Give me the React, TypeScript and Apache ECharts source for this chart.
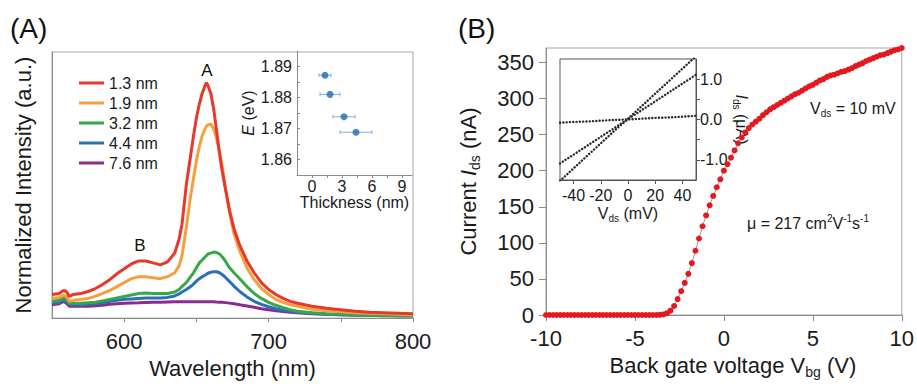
import React, { useEffect, useRef } from 'react';
import * as echarts from 'echarts';

const FONT = "'Liberation Sans', Arial, Helvetica, sans-serif";
const TXT = '#1a1a1a';

// ---------- Panel A: PL spectra ----------
const wavelength = [550, 555, 558, 560, 562, 565, 570, 575, 580, 585, 590, 595, 600, 605, 610, 615, 620, 625, 630, 635, 638, 640, 643, 646, 648, 650, 652, 654, 656, 657, 658, 660, 662, 664, 666, 668, 670, 673, 676, 680, 685, 690, 695, 700, 705, 710, 715, 720, 730, 740, 750, 760, 770, 780, 790, 800];
const pl13 = [24, 25, 28, 27, 22, 24, 25, 27, 30, 34, 39, 45, 50, 55, 58, 58, 56, 54, 57, 66, 80, 95, 135, 165, 185, 203, 217, 228, 236, 239, 236, 228, 212, 190, 167, 148, 132, 109, 91, 74, 58, 46, 36, 29, 24, 20, 17, 15, 12, 10, 8.5, 7, 6, 5.5, 5, 4.5];
const pl19 = [20, 21, 23, 22, 17, 18, 19, 20, 22, 25, 28, 32, 36, 40, 42, 42, 41, 40, 42, 46, 53, 63, 92, 124, 142, 160, 174, 185, 192, 195, 196, 197, 192, 182, 169, 153, 133, 107, 86, 68, 51, 39, 30, 24, 19, 16, 13.5, 12, 9, 7.5, 6.5, 5.5, 5, 4.5, 4, 3.5];
const pl32 = [17, 18, 20.5, 19, 15, 15, 15, 15.5, 16, 17.5, 19, 20.5, 22, 23.5, 25, 25.5, 25, 25, 25, 26.5, 29, 32, 36, 42, 46, 51, 56, 59, 62, 63.5, 65, 66, 67, 66.5, 65, 62, 58, 51, 46, 40, 32, 25, 20, 16, 13, 10.5, 8.5, 7, 5.5, 4.5, 4, 3.5, 3, 3, 2.5, 2.5];
const pl44 = [15, 16, 18.5, 17, 13.5, 13.5, 13.5, 14, 14.5, 15.5, 17, 18, 19, 19.5, 20, 20.3, 20.3, 20.5, 21, 22.5, 24.5, 26.5, 29, 32, 34.5, 37.5, 40, 42, 43.5, 44.5, 45.5, 46.5, 47, 47, 46, 44, 41.5, 37, 32.5, 27, 21.5, 17, 14, 11.5, 9.5, 8, 7, 6, 5, 4, 3.5, 3.5, 3, 3, 2.5, 2.5];
const pl76 = [13.5, 14.5, 17, 15, 12, 12, 12, 12, 12.5, 13, 14, 14.5, 15, 15.3, 15.5, 15.8, 16, 16, 16.3, 16.5, 16.5, 16.5, 16.5, 16.5, 16.5, 16.5, 16.5, 16.5, 16.5, 16.5, 16.5, 16.5, 16.5, 16.3, 16.2, 16, 15.7, 15.2, 14.5, 13.5, 12.3, 11, 9.5, 8.5, 7.5, 6.8, 6, 5.5, 4.5, 4, 3.5, 3, 3, 2.5, 2.5, 2.5];
const thicknessNames = ['1.3 nm', '1.9 nm', '3.2 nm', '4.4 nm', '7.6 nm'];
const thicknessColors = ['#e8382b', '#f4a03e', '#36a847', '#2a70b6', '#8c2b8e'];

// inset A: peak energy vs thickness
const insetThickness = [1.3, 1.8, 3.2, 4.4];
const insetEnergy = [1.8872, 1.881, 1.8738, 1.8688];
const insetThickErr = [0.6, 1.0, 1.1, 1.6];

// ---------- Panel B: transfer curve ----------
const vbgStart = -10;
const vbgStep = 0.2;
const ids = [
  0, 0, 0, 0, 0, 0, 0, 0, 0, 0,
  0, 0, 0, 0, 0, 0, 0, 0, 0, 0,
  0, 0, 0, 0, 0, 0, 0, 0, 0, 0,
  0, 0, 0.3, 0.8,
  2.5, 6, 12.5, 22, 33, 44.5, 57, 72, 89, 106, 123, 138, 152, 165, 177, 188, 200,
  209, 218, 228, 238, 246, 253, 259, 264, 268, 272, 277, 281, 285, 288, 291, 294, 297, 300, 303,
  306, 308, 311, 314, 317, 319, 322, 325, 327, 330, 332, 333, 335, 337, 338, 340, 342, 345, 347, 349,
  352, 354, 356, 358, 360, 361, 363, 365, 367, 368, 370,
];

// inset B: output curves
const vds = [-50, -40, -30, -20, -10, 0, 10, 20, 30, 40, 50];
const idsOut1 = [-1.52, -1.21, -0.9, -0.59, -0.28, 0.02, 0.33, 0.64, 0.95, 1.26, 1.57];
const idsOut2 = [-1.09, -0.87, -0.65, -0.43, -0.21, 0.01, 0.23, 0.45, 0.67, 0.89, 1.11];
const idsOut3 = [-0.08, -0.06, -0.05, -0.03, -0.01, 0.0, 0.02, 0.04, 0.05, 0.07, 0.09];

export default function App() {
  const ref = useRef<HTMLDivElement>(null);
  useEffect(() => {
    const chart = echarts.init(ref.current!, null, { renderer: 'svg' });
    const plSets = [pl13, pl19, pl32, pl44, pl76];
    const spectra = plSets
      .map((vals, i) => ({
        name: thicknessNames[i],
        type: 'line',
        xAxisIndex: 0,
        yAxisIndex: 0,
        showSymbol: false,
        symbol: 'none',
        color: thicknessColors[i],
        lineStyle: { width: 3, color: thicknessColors[i] },
        data: wavelength.map((w, j) => [w, vals[j]]),
        z: 10 - i,
      }))
      .reverse();

    const transfer = ids.map((v, i) => [+(vbgStart + i * vbgStep).toFixed(2), v]);
    const dotted = (vals: number[]) => ({
      type: 'line',
      xAxisIndex: 3,
      yAxisIndex: 3,
      showSymbol: false,
      symbol: 'none',
      clip: true,
      lineStyle: { color: '#2a2a2a', width: 2.4, type: [0.1, 3.2], cap: 'round' },
      data: vds.map((x, i) => [x, vals[i]]),
      z: 20,
    });

    const axisGrey = '#8a8a8a';
    const option: any = {
      animation: false,
      textStyle: { fontFamily: FONT, color: TXT },
      legend: {
        data: thicknessNames,
        orient: 'vertical',
        left: 74,
        top: 68,
        icon: 'rect',
        itemWidth: 25,
        itemHeight: 3,
        itemGap: 0,
        selectedMode: false,
        textStyle: { fontSize: 16, lineHeight: 20, color: TXT, fontFamily: FONT },
      },
      grid: [
        { left: 52, top: 52, width: 361, height: 270, show: true, borderColor: '#a8a8a8', borderWidth: 1 },
        { left: 297, top: 51, width: 115, height: 124 },
        { left: 546, top: 48, width: 361, height: 272, show: true, borderColor: '#a8a8a8', borderWidth: 1 },
        { left: 560, top: 59, width: 136, height: 121, show: true, borderColor: '#555', borderWidth: 1, backgroundColor: '#fff' },
      ],
      xAxis: [
        {
          gridIndex: 0, type: 'value', min: 550, max: 800,
          axisLine: { onZero: false, lineStyle: { color: axisGrey } },
          axisTick: { show: true, length: 4, customValues: [600, 650, 700, 750, 800], lineStyle: { color: axisGrey } },
          axisLabel: { customValues: [600, 700, 800], fontSize: 22, margin: 12, color: TXT, fontFamily: FONT },
          splitLine: { show: false },
          name: 'Wavelength (nm)', nameLocation: 'middle', nameGap: 38,
          nameTextStyle: { fontSize: 22, color: TXT, fontFamily: FONT },
        },
        {
          gridIndex: 1, type: 'value', min: -1.5, max: 10,
          axisLine: { onZero: false, lineStyle: { color: axisGrey } },
          axisTick: { show: true, length: 3, customValues: [0, 1.5, 3, 4.5, 6, 7.5, 9], lineStyle: { color: axisGrey } },
          axisLabel: { customValues: [0, 3, 6, 9], fontSize: 16, margin: 3, color: TXT, fontFamily: FONT },
          splitLine: { show: false },
          name: 'Thickness (nm)', nameLocation: 'middle', nameGap: 16,
          nameTextStyle: { fontSize: 16, color: TXT, fontFamily: FONT },
        },
        {
          gridIndex: 2, type: 'value', min: -10, max: 10, interval: 5,
          axisLine: { onZero: false, lineStyle: { color: axisGrey } },
          axisTick: { show: true, length: 6, lineStyle: { color: axisGrey } },
          axisLabel: { fontSize: 22, margin: 12, color: TXT, fontFamily: FONT },
          splitLine: { show: false },
          name: '{n|Back gate voltage V}{s|bg}{n| (V)}', nameLocation: 'middle', nameGap: 36,
          nameTextStyle: {
            fontSize: 22, color: TXT, fontFamily: FONT, padding: [0, 0, 0, 18],
            rich: {
              n: { fontSize: 22, lineHeight: 28, color: TXT, fontFamily: FONT },
              s: { fontSize: 14, lineHeight: 14, verticalAlign: 'bottom', color: TXT, fontFamily: FONT },
            },
          },
        },
        {
          gridIndex: 3, type: 'value', min: -50, max: 50,
          axisLine: { onZero: false, lineStyle: { color: '#555' } },
          axisTick: { show: true, length: 4, customValues: [-40, -20, 0, 20, 40], lineStyle: { color: '#555' } },
          axisLabel: { customValues: [-40, -20, 0, 20, 40], fontSize: 16, margin: 7, color: TXT, fontFamily: FONT },
          splitLine: { show: false },
          name: '{n|V}{s|ds}{n| (mV)}', nameLocation: 'middle', nameGap: 23,
          nameTextStyle: {
            fontSize: 16, color: TXT, fontFamily: FONT,
            rich: {
              n: { fontSize: 16, lineHeight: 20, color: TXT, fontFamily: FONT },
              s: { fontSize: 10, lineHeight: 10, verticalAlign: 'bottom', color: TXT, fontFamily: FONT },
            },
          },
        },
      ],
      yAxis: [
        {
          gridIndex: 0, type: 'value', min: 0, max: 270,
          axisLine: { show: true, onZero: false, lineStyle: { color: axisGrey } },
          axisTick: { show: false }, axisLabel: { show: false }, splitLine: { show: false },
          name: 'Normalized Intensity (a.u.)', nameLocation: 'middle', nameGap: 18,
          nameTextStyle: { fontSize: 22, color: TXT, fontFamily: FONT },
        },
        {
          gridIndex: 1, type: 'value', min: 1.855, max: 1.895,
          axisLine: { show: true, onZero: false, lineStyle: { color: axisGrey } },
          axisTick: { show: true, inside: true, length: 3, customValues: [1.86, 1.865, 1.87, 1.875, 1.88, 1.885, 1.89], lineStyle: { color: axisGrey } },
          axisLabel: {
            customValues: [1.86, 1.87, 1.88, 1.89], fontSize: 16, margin: 5, color: TXT, fontFamily: FONT,
            formatter: (v: number) => v.toFixed(2),
          },
          splitLine: { show: false },
          name: '{i|E} {n|(eV)}', nameLocation: 'middle', nameGap: 36,
          nameTextStyle: {
            fontSize: 16, color: TXT, fontFamily: FONT,
            rich: {
              i: { fontSize: 16, fontStyle: 'italic', lineHeight: 20, color: TXT, fontFamily: FONT },
              n: { fontSize: 16, lineHeight: 20, color: TXT, fontFamily: FONT },
            },
          },
        },
        {
          gridIndex: 2, type: 'value', min: 0, max: 370,
          axisLine: { show: true, onZero: false, lineStyle: { color: axisGrey } },
          axisTick: { show: true, length: 7, customValues: [0, 50, 100, 150, 200, 250, 300, 350], lineStyle: { color: axisGrey } },
          axisLabel: { customValues: [0, 50, 100, 150, 200, 250, 300, 350], fontSize: 22, margin: 12, color: TXT, fontFamily: FONT },
          splitLine: { show: false },
          name: '{n|Current }{i|I}{s|ds}{n| (nA)}', nameLocation: 'middle', nameGap: 64,
          nameTextStyle: {
            fontSize: 22, color: TXT, fontFamily: FONT,
            rich: {
              n: { fontSize: 22, lineHeight: 28, color: TXT, fontFamily: FONT },
              i: { fontSize: 22, lineHeight: 28, fontStyle: 'italic', color: TXT, fontFamily: FONT },
              s: { fontSize: 14, lineHeight: 14, verticalAlign: 'bottom', color: TXT, fontFamily: FONT },
            },
          },
        },
        {
          gridIndex: 3, type: 'value', position: 'right', min: -1.5, max: 1.5,
          axisLine: { show: true, onZero: false, lineStyle: { color: '#555' } },
          axisTick: { show: true, length: 4, customValues: [-1, -0.5, 0, 0.5, 1], lineStyle: { color: '#555' } },
          axisLabel: {
            customValues: [-1, 0, 1], fontSize: 16, margin: 4, color: TXT, fontFamily: FONT,
            formatter: (v: number) => v.toFixed(1),
          },
          splitLine: { show: false },
          name: '{i|I}{s|ds}{n| (μA)}', nameLocation: 'middle', nameGap: 29, nameRotate: -90,
          nameTextStyle: {
            fontSize: 16, color: TXT, fontFamily: FONT,
            rich: {
              n: { fontSize: 16, lineHeight: 20, color: TXT, fontFamily: FONT },
              i: { fontSize: 16, lineHeight: 20, fontStyle: 'italic', color: TXT, fontFamily: FONT },
              s: { fontSize: 10, lineHeight: 10, verticalAlign: 'bottom', color: TXT, fontFamily: FONT },
            },
          },
        },
      ],
      series: [
        ...spectra,
        {
          type: 'custom',
          xAxisIndex: 1,
          yAxisIndex: 1,
          encode: { x: 0, y: 1 },
          data: insetThickness.map((t, i) => [t, insetEnergy[i], insetThickErr[i]]),
          renderItem: (params: any, api: any) => {
            const x = api.value(0);
            const y = api.value(1);
            const e = api.value(2);
            const p1 = api.coord([x - e, y]);
            const p2 = api.coord([x + e, y]);
            const style = { stroke: '#7fb0dc', lineWidth: 1 };
            return {
              type: 'group',
              children: [
                { type: 'line', shape: { x1: p1[0], y1: p1[1], x2: p2[0], y2: p2[1] }, style },
                { type: 'line', shape: { x1: p1[0], y1: p1[1] - 2, x2: p1[0], y2: p1[1] + 2 }, style },
                { type: 'line', shape: { x1: p2[0], y1: p2[1] - 2, x2: p2[0], y2: p2[1] + 2 }, style },
              ],
            };
          },
          z: 5,
        },
        {
          type: 'scatter',
          xAxisIndex: 1,
          yAxisIndex: 1,
          symbolSize: 7,
          itemStyle: { color: '#1f6cb2' },
          data: insetThickness.map((t, i) => [t, insetEnergy[i]]),
          z: 6,
        },
        {
          type: 'line',
          xAxisIndex: 2,
          yAxisIndex: 2,
          symbol: 'circle',
          symbolSize: 6,
          showSymbol: true,
          itemStyle: { color: '#e3191f' },
          lineStyle: { color: '#9a9a9a', width: 1 },
          data: transfer,
          z: 4,
        },
        dotted(idsOut1),
        dotted(idsOut2),
        dotted(idsOut3),
      ],
      graphic: [
        { type: 'text', x: 10, y: 28, style: { text: '(A)', fontSize: 28, fontFamily: FONT, fill: '#111', verticalAlign: 'middle' } },
        { type: 'text', x: 458, y: 28, style: { text: '(B)', fontSize: 28, fontFamily: FONT, fill: '#111', verticalAlign: 'middle' } },
        { type: 'text', x: 207, y: 70, style: { text: 'A', fontSize: 17, fontFamily: FONT, fill: '#111', align: 'center', verticalAlign: 'middle' } },
        { type: 'text', x: 140, y: 245, style: { text: 'B', fontSize: 17, fontFamily: FONT, fill: '#111', align: 'center', verticalAlign: 'middle' } },
        {
          type: 'text', x: 810, y: 108, z: 50,
          style: {
            text: '{n|V}{s|ds}{n| = 10 mV}', align: 'left', verticalAlign: 'middle',
            rich: {
              n: { fontSize: 16, lineHeight: 20, fontFamily: FONT, fill: TXT },
              s: { fontSize: 10, lineHeight: 10, verticalAlign: 'bottom', fontFamily: FONT, fill: TXT },
            },
          },
        },
        {
          type: 'text', x: 747, y: 223, z: 50,
          style: {
            text: '{n|μ = 217 cm}{p|2}{n|V}{p|-1}{n|s}{p|-1}', align: 'left', verticalAlign: 'middle',
            rich: {
              n: { fontSize: 16, lineHeight: 20, fontFamily: FONT, fill: TXT },
              p: { fontSize: 10, lineHeight: 10, verticalAlign: 'top', fontFamily: FONT, fill: TXT },
            },
          },
        },
      ],
    };
    chart.setOption(option);
    return () => chart.dispose();
  }, []);
  return (
    <div
      ref={ref}
      style={{ position: 'fixed', left: 0, top: 0, width: 917, height: 384, background: '#fff' }}
    />
  );
}
